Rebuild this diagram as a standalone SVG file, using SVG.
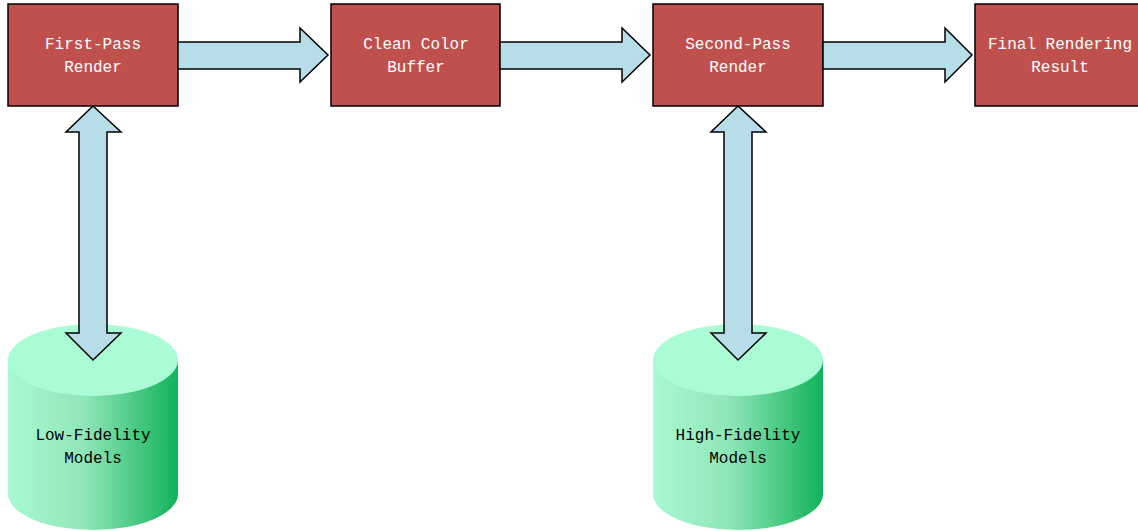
<svg xmlns="http://www.w3.org/2000/svg" width="1138" height="531" viewBox="0 0 1138 531">
<defs>
<linearGradient id="cyl" x1="0" y1="0" x2="1" y2="0">
<stop offset="0" stop-color="#a9f9d2"/>
<stop offset="0.45" stop-color="#8fe6b8"/>
<stop offset="1" stop-color="#11b25a"/>
</linearGradient>
</defs>
<style>
.box{fill:#c0504d;stroke:#000;stroke-width:1.5}
.arr{fill:#b7dde8;stroke:#000;stroke-width:1.5;stroke-linejoin:miter}
.wt{fill:#fff;font-family:"Liberation Mono",monospace;font-size:16px;text-anchor:middle}
.bt{fill:#000;font-family:"Liberation Mono",monospace;font-size:16px;text-anchor:middle}
.top{fill:#a9fcd4}
</style>
<rect width="1138" height="531" fill="#fff"/>
<g id="n1">
<rect class="box" x="8" y="4" width="170" height="102"/>
<text class="wt" x="93" y="49">First-Pass</text>
<text class="wt" x="93" y="72">Render</text>
</g>
<g id="n2">
<rect class="box" x="331" y="4" width="169" height="102"/>
<text class="wt" x="416" y="49">Clean Color</text>
<text class="wt" x="416" y="72">Buffer</text>
</g>
<g id="n3">
<rect class="box" x="653" y="4" width="170" height="102"/>
<text class="wt" x="738" y="49">Second-Pass</text>
<text class="wt" x="738" y="72">Render</text>
</g>
<g id="n4">
<rect class="box" x="975" y="4" width="170" height="102"/>
<text class="wt" x="1060" y="49">Final Rendering</text>
<text class="wt" x="1060" y="72">Result</text>
</g>
<g id="db1">
<path d="M8,360 L8,494 A85,36 0 0 0 178,494 L178,360 Z" fill="url(#cyl)"/>
<ellipse class="top" cx="93" cy="360" rx="85" ry="36"/>
<text class="bt" x="93" y="440">Low-Fidelity</text>
<text class="bt" x="93" y="463">Models</text>
</g>
<g id="db2">
<path d="M653,360 L653,494 A85,36 0 0 0 823,494 L823,360 Z" fill="url(#cyl)"/>
<ellipse class="top" cx="738" cy="360" rx="85" ry="36"/>
<text class="bt" x="738" y="440">High-Fidelity</text>
<text class="bt" x="738" y="463">Models</text>
</g>
<g id="connectors">
<polygon class="arr" points="178,42 300,42 300,28 328,55 300,82 300,69 178,69"/>
<polygon class="arr" points="500,42 622,42 622,28 650,55 622,82 622,69 500,69"/>
<polygon class="arr" points="823,42 945,42 945,28 972,55 945,82 945,69 823,69"/>
<polygon class="arr" points="93,106 121,132 107,132 107,333 121,333 93,360 66,333 79,333 79,132 66,132"/>
<polygon class="arr" points="738,106 766,132 752,132 752,333 766,333 738,360 711,333 724,333 724,132 711,132"/>
</g>
</svg>
